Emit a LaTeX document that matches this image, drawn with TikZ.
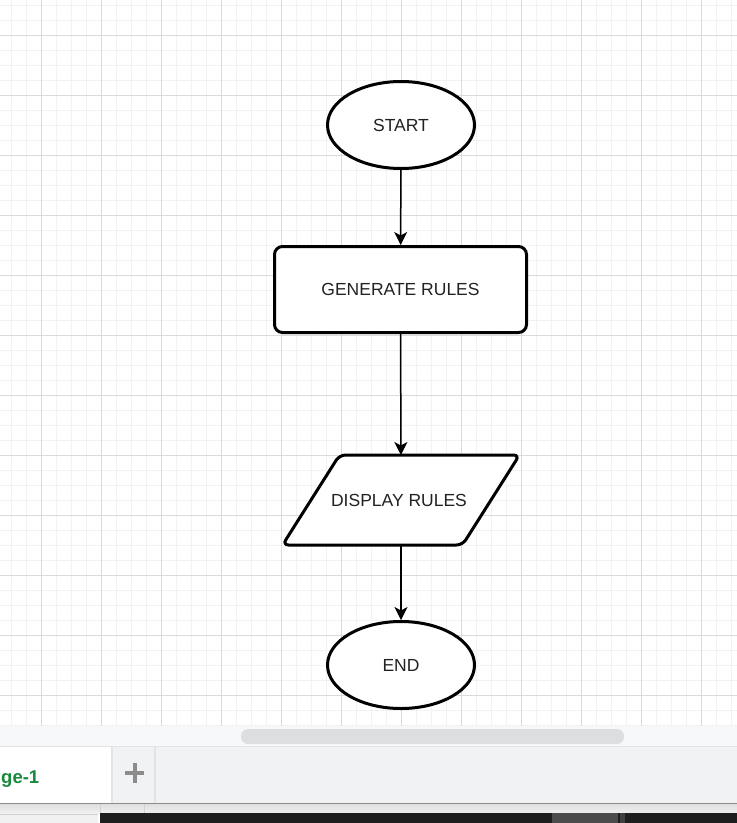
\documentclass[tikz,border=0pt]{standalone}
\usepackage{fontspec}
\setmainfont{Liberation Sans}
\usepackage{xcolor}
\usetikzlibrary{shapes.geometric, arrows.meta, positioning}

\definecolor{minorgrid}{HTML}{F2F2F2}
\definecolor{majorgrid}{HTML}{DADADA}
\definecolor{barbg}{HTML}{F7F8FA}
\definecolor{tabbg}{HTML}{F1F2F4}
\definecolor{tabline}{HTML}{E2E3E5}
\definecolor{thumb}{HTML}{DDDEE0}
\definecolor{pagegreen}{HTML}{188A3C}
\definecolor{plusgray}{HTML}{8C8C8C}
\definecolor{darkbar}{HTML}{1E1E1E}
\definecolor{textgray}{HTML}{222222}

\tikzset{
  minor/.style={minorgrid, line width=1pt},
  major/.style={majorgrid, line width=1pt},
  shapeline/.style={draw=black, line width=3pt, fill=white, text=textgray,
    font=\fontsize{17.5}{20}\selectfont, inner sep=0pt},
  terminal/.style={shapeline, ellipse, minimum width=147pt, minimum height=87pt},
  process/.style={shapeline, rectangle, rounded corners=8pt, minimum width=252pt, minimum height=86pt},
  io/.style={shapeline, draw=none, fill=none, minimum width=177pt, minimum height=87pt},
  flow/.style={line width=1.5pt, -{Stealth[length=13pt, width=13pt, inset=3.5pt]}}
}

\begin{document}
\begin{tikzpicture}[x=1pt, y=-1pt]
  \useasboundingbox (0,0) rectangle (737,823);
  \clip (0,0) rectangle (737,823);
  \fill[white] (0,0) rectangle (737,726);

  % grid
  \foreach \x in {11,26,...,731} \draw[minor] (\x,0) -- (\x,726);
  \foreach \y in {5,20,...,725} \draw[minor] (0,\y) -- (737,\y);
  \foreach \x in {41,101,...,701} \draw[major] (\x,0) -- (\x,726);
  \foreach \y in {35,95,...,695} \draw[major] (0,\y) -- (737,\y);

  % flowchart
  \node[terminal] (start) at (401,125) {START};
  \node[process] (gen) at (400.5,289.5) {GENERATE RULES};
  \node[io] (disp) at (401,500) {};
  \draw[shapeline, rounded corners=6pt] ([xshift=28.5pt]disp.north west) -- ([xshift=28.5pt]disp.north east)
    -- ([xshift=-28.5pt]disp.south east) -- ([xshift=-28.5pt]disp.south west) -- cycle;
  \node[text=textgray, font=\fontsize{17.5}{20}\selectfont] (displabel) at (399,500) {DISPLAY RULES};
  \node[terminal] (end) at (401,665) {END};

  \draw[flow] (start) -- (gen);
  \draw[flow] (gen) -- (disp);
  \draw[flow] (disp) -- (end);

  % bottom bars
  \fill[barbg] (0,726) rectangle (737,746);
  \fill[thumb, rounded corners=7pt] (241,729) rectangle (624,744);
  \draw[tabline, line width=1.5pt] (0,746.5) -- (737,746.5);
  \fill[tabbg] (0,747) rectangle (737,803);
  \fill[white] (0,747) rectangle (111,803);
  \draw[tabline, line width=1.5pt] (112,747) -- (112,803);
  \draw[tabline, line width=1.5pt] (155,747) -- (155,803);
  \node[anchor=base west, inner sep=0pt, text=pagegreen, font=\fontsize{18.5}{22}\selectfont\bfseries] (page) at (1,783) {ge-1};
  \coordinate (plus) at (134.5,773);
  \draw[plusgray, line width=4pt] ([xshift=-9.5pt]plus) -- ([xshift=9.5pt]plus);
  \draw[plusgray, line width=4pt] ([yshift=-10pt]plus) -- ([yshift=10pt]plus);
  \draw[gray!90, line width=1.5pt] (0,803.5) -- (737,803.5);
  \shade[top color=gray!25, bottom color=gray!12] (0,804) rectangle (737,813);
  \draw[gray!35] (100,804) -- (100,813);
  \draw[gray!35] (144,804) -- (144,813);
  \fill[gray!12] (0,813) rectangle (98,823);
  \draw[gray!35] (0,814) -- (98,814);
  \fill[darkbar] (100,813) rectangle (737,823);
  \fill[black!70] (552,813) rectangle (618,823);
  \fill[black!75] (620,813) rectangle (625,823);
\end{tikzpicture}
\end{document}
